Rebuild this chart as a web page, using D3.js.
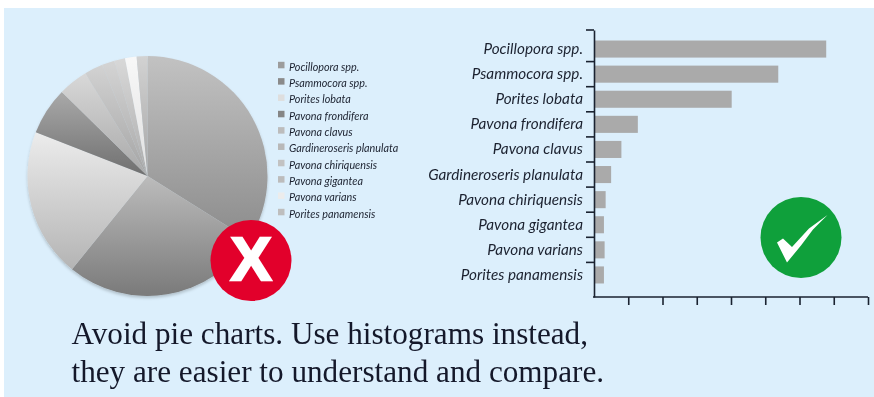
<!DOCTYPE html>
<html><head><meta charset="utf-8">
<script src="https://cdn.jsdelivr.net/npm/d3@7/dist/d3.min.js"></script>
<style>html,body{margin:0;padding:0;background:#fff}svg{display:block;filter:blur(0.35px)}</style>
</head><body><svg id="c" width="874" height="397"></svg>
<script>
const categories = ["Pocillopora spp.","Psammocora spp.","Porites lobata","Pavona frondifera","Pavona clavus","Gardineroseris planulata","Pavona chiriquensis","Pavona gigantea","Pavona varians","Porites panamensis"];
const values = [33.9,26.9,20.1,6.4,4.0,2.5,1.7,1.45,1.55,1.45];
const axisTicks = [5,10,15,20,25,30,35,40];
const captionLines = ["Avoid pie charts. Use histograms instead,","they are easier to understand and compare."];
const sliceTop = ["#c2c2c2","#bcbcbc","#ececec","#a9a9a9","#d8d8d8","#d2d2d2","#d4d4d4","#d8d8d8","#f8f8f8","#d2d2d2"];
const sliceBottom = ["#8c8c8c","#7a7a7a","#b4b4b4","#6f6f6f","#a8a8a8","#a4a4a4","#a8a8a8","#acacac","#e0e0e0","#a6a6a6"];
const legendColor = ["#9c9c9c","#8a8a8a","#dedede","#858585","#bcbcbc","#b8b8b8","#c2c2c2","#bcbcbc","#ececec","#bebebe"];

const svg = d3.select("#c");
const ink = "#1c2230";
svg.append("rect").attr("x",4).attr("y",8).attr("width",870).attr("height",389).attr("fill","#dceffc");

const defs = svg.append("defs");
const shadow = defs.append("filter").attr("id","soft").attr("x","-5%").attr("y","-5%").attr("width","110%").attr("height","110%");
shadow.append("feDropShadow").attr("dx",0).attr("dy",2).attr("stdDeviation",1.5).attr("flood-color","#000").attr("flood-opacity",0.2);
categories.forEach((c,i)=>{
  const g = defs.append("linearGradient").attr("id","g"+i).attr("x1",0).attr("y1",0).attr("x2",0).attr("y2",1);
  g.append("stop").attr("offset","0%").attr("stop-color",sliceTop[i]);
  g.append("stop").attr("offset","100%").attr("stop-color",sliceBottom[i]);
});

// Pie
const pie = d3.pie().sort(null).value(d=>d)(values);
const arc = d3.arc().innerRadius(0).outerRadius(120);
svg.append("g").attr("transform","translate(147.5,176)").attr("filter","url(#soft)")
  .selectAll("path").data(pie).join("path")
  .attr("d",arc).attr("fill",(d,i)=>`url(#g${i})`);

// Legend
const legendY = d3.scalePoint().domain(categories).range([67.3,214.3]);
const legend = svg.append("g").selectAll("g").data(categories).join("g")
  .attr("transform",d=>`translate(278,${legendY(d)})`);
legend.append("rect").attr("x",0).attr("y",-5.5).attr("width",6.5).attr("height",6.5)
  .attr("fill",(d,i)=>legendColor[i]);
legend.append("text").attr("x",11).attr("y",0).attr("dy","0.32em")
  .attr("font-family","Lato").attr("font-style","italic").attr("font-size",10.8)
  .attr("fill",ink).text(d=>d);

// Bars
const x = d3.scaleLinear().domain([0,40]).range([594,868]);
const y = d3.scaleBand().domain(categories).range([36.5,287.5]).paddingInner(0.32).paddingOuter(0.16);
svg.append("g").selectAll("rect").data(values).join("rect")
  .attr("x",x(0)).attr("y",(d,i)=>y(categories[i]))
  .attr("width",d=>x(d)-x(0)).attr("height",y.bandwidth()).attr("fill","#aaaaaa");

// Axes
const xAxis = d3.axisBottom(x).tickValues(axisTicks).tickSize(8).tickSizeOuter(0).tickFormat("");
const gx = svg.append("g").attr("transform","translate(0,297)").call(xAxis);
const step = y.step();
const boundaries = categories.slice(1).map(c=>y(c)-y.paddingInner()*step/2);
const yLine = d3.scaleLinear().domain([0,1]).range([30,297]);
const gy = svg.append("g").attr("transform","translate(594,0)")
  .call(d3.axisLeft(yLine).tickValues([]).tickSize(0).tickSizeOuter(0));
gy.selectAll("line.b").data([30,...boundaries]).join("line").attr("class","b")
  .attr("x1",-8).attr("x2",0).attr("y1",d=>d).attr("y2",d=>d);
[gx,gy].forEach(g=>{g.selectAll("path,line").attr("stroke","#1a2230").attr("stroke-width",1.6);g.selectAll(".tick text").remove();});
gx.select(".domain").attr("d","M593,0H868");

svg.append("g").selectAll("text").data(categories).join("text")
  .attr("x",583).attr("y",d=>y(d)+y.bandwidth()/2).attr("dy","0.33em").attr("text-anchor","end")
  .attr("font-family","Lato").attr("font-style","italic").attr("font-size",15.3)
  .attr("fill",ink).text(d=>d);

// Badges
svg.append("circle").attr("cx",251).attr("cy",260.5).attr("r",40.5).attr("fill","#e2002b");
svg.append("text").attr("x",251).attr("y",280).attr("text-anchor","middle")
  .attr("font-family","'Liberation Sans'").attr("font-weight","bold").attr("font-size",61)
  .attr("fill","#fff").attr("stroke","#fff").attr("stroke-width",2.5).text("X");
svg.append("circle").attr("cx",801).attr("cy",237.5).attr("r",40.5).attr("fill","#0fa03b");
const check = d3.line().curve(d3.curveLinear)([[-24,5],[-18,1],[-9,9.5],[8,-9],[26.5,-22.5],[12,-8],[0,8],[-14,25]]);
svg.append("path").attr("transform","translate(801,237.5)").attr("d",check+"Z").attr("fill","#fff");

// Caption
svg.append("g").selectAll("text").data(captionLines).join("text")
  .attr("x",71.5).attr("y",(d,i)=>344+i*38)
  .attr("font-family","'Liberation Serif'").attr("font-size",31.2).attr("fill","#14182a").text(d=>d);
</script></body></html>
